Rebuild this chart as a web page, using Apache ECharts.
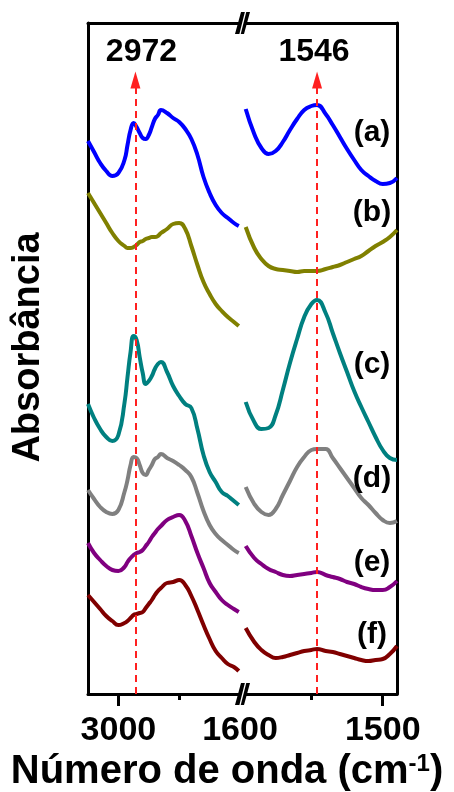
<!DOCTYPE html>
<html>
<head>
<meta charset="utf-8">
<script src="https://cdn.jsdelivr.net/npm/echarts@6/dist/echarts.min.js"></script>
<style>
html,body{margin:0;padding:0;background:#fff;}
#c{width:454px;height:792px;}
</style>
</head>
<body>
<div id="c"></div>
<script>
// Wavenumbers (cm-1), left panel (C-H region) and right panel
const wnLeft = [3050,3040,3030,3020,3010,3000,2990,2985,2980,2975,2970,2965,2960,2955,2950,2945,2940,2935,2930,2920,2910,2900,2890,2880,2870,2860,2850,2840,2830,2820,2810,2802];
const wnRight = [1596,1590,1585,1580,1575,1570,1565,1560,1555,1550,1546,1540,1535,1530,1525,1520,1515,1510,1505,1500,1495,1490];

// Absorbance (offset, arbitrary units) per sample
const aLeft = [5.53,5.42,5.31,5.23,5.18,5.21,5.34,5.49,5.64,5.71,5.67,5.61,5.56,5.55,5.59,5.67,5.75,5.79,5.84,5.81,5.76,5.72,5.65,5.55,5.39,5.17,5.01,4.89,4.81,4.76,4.71,4.68];
const bLeft = [5.01,4.91,4.81,4.71,4.61,4.53,4.48,4.46,4.46,4.47,4.49,4.52,4.53,4.55,4.56,4.57,4.57,4.58,4.61,4.65,4.70,4.71,4.65,4.48,4.29,4.12,4.00,3.90,3.83,3.77,3.72,3.68];
const cLeft = [2.90,2.76,2.65,2.57,2.53,2.59,2.91,3.17,3.42,3.58,3.54,3.37,3.21,3.10,3.13,3.18,3.25,3.30,3.32,3.22,3.08,2.98,2.90,2.86,2.65,2.39,2.22,2.12,2.02,1.98,1.93,1.89];
const dLeft = [2.04,1.95,1.87,1.82,1.80,1.84,2.02,2.14,2.29,2.37,2.36,2.29,2.21,2.19,2.24,2.29,2.35,2.37,2.40,2.36,2.33,2.29,2.24,2.17,2.01,1.83,1.69,1.60,1.54,1.49,1.44,1.41];
const eLeft = [1.51,1.41,1.34,1.28,1.24,1.23,1.27,1.32,1.36,1.39,1.41,1.42,1.44,1.48,1.52,1.57,1.61,1.65,1.68,1.74,1.77,1.79,1.73,1.58,1.41,1.26,1.11,1.02,0.94,0.89,0.85,0.82];
const fLeft = [0.99,0.92,0.85,0.78,0.73,0.69,0.71,0.73,0.76,0.79,0.80,0.81,0.82,0.86,0.90,0.94,0.99,1.03,1.06,1.11,1.12,1.14,1.09,0.98,0.84,0.69,0.55,0.43,0.36,0.30,0.27,0.23];

const aRight = [5.85,5.60,5.46,5.40,5.43,5.52,5.64,5.75,5.84,5.88,5.89,5.80,5.69,5.57,5.45,5.34,5.24,5.18,5.13,5.10,5.11,5.16];
const bRight = [4.67,4.46,4.35,4.28,4.25,4.24,4.23,4.22,4.23,4.23,4.23,4.25,4.27,4.29,4.32,4.35,4.38,4.43,4.48,4.52,4.57,4.64];
const cRight = [2.92,2.72,2.65,2.66,2.79,3.04,3.31,3.55,3.77,3.90,3.94,3.81,3.61,3.41,3.22,3.03,2.87,2.72,2.57,2.44,2.36,2.34];
const dRight = [2.07,1.90,1.82,1.79,1.85,1.99,2.13,2.27,2.37,2.44,2.45,2.45,2.36,2.26,2.16,2.06,1.96,1.89,1.81,1.74,1.71,1.73];
const eRight = [1.48,1.36,1.30,1.25,1.22,1.19,1.18,1.19,1.20,1.21,1.22,1.19,1.17,1.15,1.12,1.10,1.07,1.05,1.04,1.04,1.07,1.13];
const fRight = [0.66,0.52,0.44,0.39,0.36,0.37,0.39,0.41,0.43,0.44,0.45,0.43,0.42,0.40,0.38,0.36,0.34,0.33,0.34,0.35,0.40,0.48];

const sampleLabels = ['(a)','(b)','(c)','(d)','(e)','(f)'];
const sampleColors = ['#0000ff','#808000','#008080','#808080','#800080','#800000'];
const leftSets = [aLeft,bLeft,cLeft,dLeft,eLeft,fLeft];
const rightSets = [aRight,bRight,cRight,dRight,eRight,fRight];

const leftTickLabels = [3000];
const leftMinorTicks = [2900];
const rightTickLabels = [1600, 1500];
const rightMajorTicks = [1500];
const rightMinorTicks = [1550];
const peakLeft = 2972, peakRight = 1546;
const arrowTop = 6.14;

const FONT = '"Liberation Sans", Arial, Helvetica, sans-serif';
const chart = echarts.init(document.getElementById('c'), null, {renderer:'canvas'});

const GT = 23, GH = 671;
const frame = {color:'#000', width:3};

function bottomMain(grid, min, max, labels, ticks){
  return {type:'value', gridIndex:grid, position:'bottom', min:min, max:max, inverse:true,
    axisLine:{show:true, onZero:false, lineStyle:frame},
    axisTick:{show:true, inside:false, length:12, lineStyle:{color:'#000', width:3}, customValues:ticks},
    axisLabel:{show:true, customValues:labels, margin:20, fontSize:34, fontWeight:'bold', color:'#000', fontFamily:FONT,
      showMinLabel:true, showMaxLabel:true, hideOverlap:false, formatter:function(v){return String(v);}},
    splitLine:{show:false}};
}
function bottomMinor(grid, min, max, ticks){
  return {type:'value', gridIndex:grid, position:'bottom', min:min, max:max, inverse:true,
    axisLine:{show:false, onZero:false},
    axisTick:{show:true, inside:false, length:6, lineStyle:{color:'#000', width:3}, customValues:ticks},
    axisLabel:{show:false}, splitLine:{show:false}};
}
function topLine(grid, min, max){
  return {type:'value', gridIndex:grid, position:'top', min:min, max:max, inverse:true,
    axisLine:{show:true, onZero:false, lineStyle:frame},
    axisTick:{show:false}, axisLabel:{show:false}, splitLine:{show:false}};
}

const series = [];
leftSets.forEach((arr,i)=>{
  series.push({type:'line', xAxisIndex:0, yAxisIndex:0, smooth:0.5, symbol:'none', z:2,
    lineStyle:{color:sampleColors[i], width:4}, data: wnLeft.map((w,k)=>[w, arr[k]])});
});
rightSets.forEach((arr,i)=>{
  series.push({type:'line', xAxisIndex:3, yAxisIndex:1, smooth:0.5, symbol:'none', z:2,
    lineStyle:{color:sampleColors[i], width:4}, data: wnRight.map((w,k)=>[w, arr[k]])});
});
function peakLine(xi, yi, wn, dx){
  return {type:'line', xAxisIndex:xi, yAxisIndex:yi, data:[], z:5,
    markLine:{silent:true, symbol:['none','triangle'], symbolSize:[10,17], animation:false,
      lineStyle:{color:'#ff2020', type:[7,5], width:2},
      label:{show:true, position:'end', distance:12, offset:[dx,0], formatter:String(wn), fontSize:32, fontWeight:'bold', color:'#000', fontFamily:FONT},
      data:[[{coord:[wn,0]},{coord:[wn,arrowTop]}]]}};
}
series.push(peakLine(0,0,peakLeft,6));
series.push(peakLine(3,1,peakRight,-3));

function breakMark(cx, cy){
  return [
    {type:'polygon', z:100, shape:{points:[[cx-6,cy+11],[cx+3,cy+11],[cx+9,cy-11],[cx,cy-11]]}, style:{fill:'#000'}},
    {type:'line', z:101, shape:{x1:cx-1.2,y1:cy+12,x2:cx+4.8,y2:cy-12}, style:{stroke:'#fff', lineWidth:1.3}}
  ];
}
const labelY = [133, 213, 365, 479, 563, 635];
const graphics = [].concat(breakMark(241, GT), breakMark(241, GT+GH));
sampleLabels.forEach((t,i)=>{
  graphics.push({type:'text', z:50, x:372, y:labelY[i], style:{text:t, fill:'#000', font:'bold 30px '+FONT, align:'center', verticalAlign:'middle'}});
});

chart.setOption({
  animation:false,
  backgroundColor:'#fff',
  title:{text:'{a|Número de onda (cm}{b|-1}{a|)}', left:'center', top:752, padding:0,
    textStyle:{rich:{a:{fontSize:40, fontWeight:'bold', color:'#000', fontFamily:FONT},
                     b:{fontSize:24, fontWeight:'bold', color:'#000', fontFamily:FONT, verticalAlign:'top'}}}},
  grid:[
    {left:88, top:GT, width:152, height:GH, outerBoundsMode:'none', containLabel:false},
    {left:240, top:GT, width:157, height:GH, outerBoundsMode:'none', containLabel:false}
  ],
  xAxis:[
    bottomMain(0, 2800, 3050, leftTickLabels, leftTickLabels),
    bottomMinor(0, 2800, 3050, leftMinorTicks),
    topLine(0, 2800, 3050),
    bottomMain(1, 1490, 1600, rightTickLabels, rightMajorTicks),
    bottomMinor(1, 1490, 1600, rightMinorTicks),
    topLine(1, 1490, 1600)
  ],
  yAxis:[
    {type:'value', gridIndex:0, position:'left', min:0, max:6.71,
      axisLine:{show:true, onZero:false, lineStyle:frame}, axisTick:{show:false}, axisLabel:{show:false}, splitLine:{show:false},
      name:'Absorbância', nameLocation:'middle', nameGap:40,
      nameTextStyle:{fontSize:38, fontWeight:'bold', color:'#000', fontFamily:FONT, padding:[0,0,0,22]}},
    {type:'value', gridIndex:1, position:'right', min:0, max:6.71,
      axisLine:{show:true, onZero:false, lineStyle:frame}, axisTick:{show:false}, axisLabel:{show:false}, splitLine:{show:false}}
  ],
  series:series,
  graphic:graphics
});
</script>
</body>
</html>
